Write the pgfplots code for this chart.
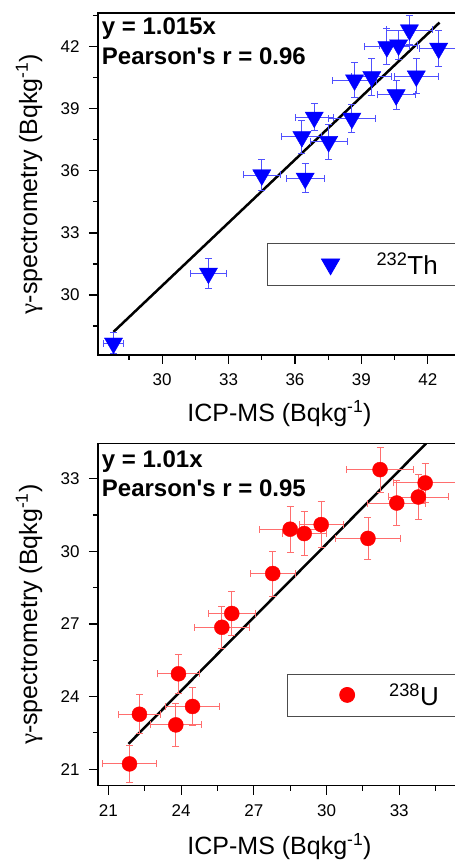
\documentclass[border=0pt]{standalone}
\usepackage{pgfplots}
\pgfplotsset{compat=1.18}
\usepackage{fontspec}
\setmainfont{Liberation Sans}
\newfontfamily\greekserif{Liberation Serif}
\definecolor{thblue}{RGB}{0,0,255}
\definecolor{therr}{RGB}{80,80,255}
\definecolor{ured}{RGB}{255,0,0}
\definecolor{uerr}{RGB}{255,110,110}
\pgfplotsset{
  common/.style={
    scale only axis, width=363pt, height=342pt,
    tick align=outside, tick pos=left,
    major tick length=9pt, minor tick length=5pt,
    axis line style={line width=1.2pt},
    tick style={black, line width=1.2pt},
    tick label style={font=\fontsize{17}{17}\selectfont},
    xticklabel style={yshift=-6pt},
    yticklabel style={xshift=-6pt},
    /pgf/number format/assume math mode=true,
    xlabel={ICP-MS (Bqkg\textsuperscript{-1})},
    ylabel={{\greekserif γ}-spectrometry (Bqkg\textsuperscript{-1})},
    every axis y label/.style={at={(axis description cs:-0.168,0.5)}, rotate=90, anchor=base, font=\fontsize{25}{25}\selectfont},
    clip=true,
  }
}
\begin{document}
\begin{tikzpicture}[x=1pt,y=1pt]
\useasboundingbox (0,0) rectangle (455,862);
\clip (0,0) rectangle (455,862);
% ---------- Th panel ----------
\begin{axis}[common,
  at={(98pt,507pt)}, anchor=south west,
  xmin=27.1, xmax=43.5, ymin=27.1, ymax=43.63,
  xtick={30,33,36,39,42}, ytick={30,33,36,39,42},
  minor xtick={28.5,31.5,34.5,37.5,40.5}, minor ytick={28.5,31.5,34.5,37.5,40.5,43.5},
  every axis x label/.style={at={(axis description cs:0.5,-0.195)}, anchor=base, font=\fontsize{25}{25}\selectfont},
  legend style={at={(axis description cs:0.466,0.328)}, anchor=north west,
    draw=black!70, line width=0.8pt, inner xsep=0pt, inner ysep=0pt,
    font=\fontsize{26}{26}\selectfont},
  legend cell align=left,
]
\addplot[black, line width=2.5pt, forget plot] coordinates {(27.8,28.217) (42.53,43.168)};
\addplot[only marks, mark=triangle*, mark size=10.5pt, color=thblue,
  mark options={rotate=180, fill=thblue, draw=thblue},
  legend image code/.code={\path[draw=none, fill=none] (-63pt,-21pt) rectangle (44pt,21pt);
    \draw[color=thblue, mark=triangle*, mark size=10.5pt, mark options={rotate=180, fill=thblue}] plot coordinates {(0pt,0pt)};},
  error bars/.cd, x dir=both, x explicit, y dir=both, y explicit,
  error bar style={color=therr, line width=0.9pt},
  error mark options={rotate=90, mark size=3.5pt, color=therr, line width=0.9pt},
  ] table[x=x, y=y, x error=ex, y error=ey] {
x y ex ey
34.50 35.80 0.85 0.75
36.46 35.64 0.86 0.70
36.31 37.65 0.90 0.80
36.87 38.59 0.87 0.65
37.52 37.41 0.83 0.85
38.57 38.54 1.05 0.68
38.69 40.39 1.00 0.85
39.47 40.55 0.90 0.90
40.15 42.00 1.00 0.88
40.68 42.08 0.85 0.70
40.57 39.67 0.85 0.70
41.17 42.81 1.05 0.72
41.48 40.58 1.00 0.85
42.49 41.92 0.85 0.85
32.09 31.05 0.80 0.72
27.80 27.67 0.45 0.50
};
\addlegendentry{\textsuperscript{232}Th\hspace*{120pt}}
\node[anchor=base west, inner sep=0pt, font=\bfseries\fontsize{24}{24}\selectfont] at (axis description cs:0.0102,0.9357) {y = 1.015x};
\node[anchor=base west, inner sep=0pt, font=\bfseries\fontsize{24}{24}\selectfont] at (axis description cs:0.0102,0.848) {Pearson\textquotesingle s r = 0.96};
\end{axis}
% ---------- U panel ----------
\begin{axis}[common,
  at={(98pt,76.3pt)}, anchor=south west,
  xmin=20.57, xmax=35.55, ymin=20.32, ymax=34.44,
  xtick={21,24,27,30,33}, ytick={21,24,27,30,33},
  minor xtick={22.5,25.5,28.5,31.5,34.5}, minor ytick={22.5,25.5,28.5,31.5},
  every axis x label/.style={at={(axis description cs:0.5,-0.2026)}, anchor=base, font=\fontsize{25}{25}\selectfont},
  legend style={at={(axis description cs:0.52,0.328)}, anchor=north west,
    draw=black!70, line width=0.8pt, inner xsep=0pt, inner ysep=0pt,
    font=\fontsize{26}{26}\selectfont},
  legend cell align=left,
]
\addplot[black, line width=2.5pt, forget plot] coordinates {(21.83,22.05) (34.11,34.45)};
\addplot[only marks, mark=*, mark size=7.5pt, color=ured,
  mark options={fill=ured, draw=ured},
  legend image code/.code={\path[draw=none, fill=none] (-60pt,-21pt) rectangle (40pt,21pt);
    \draw[color=ured, mark=*, mark size=7.5pt, mark options={fill=ured}] plot coordinates {(0pt,0pt)};},
  error bars/.cd, x dir=both, x explicit, y dir=both, y explicit,
  error bar style={color=uerr, line width=0.9pt},
  error mark options={rotate=90, mark size=3.5pt, color=uerr, line width=0.9pt},
  ] table[x=x, y=y, x error=ex, y error=ey] {
x y ex ey
32.21 33.37 1.38 0.93
34.07 32.82 1.30 0.80
33.79 32.24 1.25 0.93
32.90 31.99 1.20 0.93
31.71 30.53 1.35 0.86
29.78 31.10 0.90 0.95
29.08 30.73 0.90 0.90
28.50 30.91 1.25 0.95
27.78 29.08 0.93 0.93
26.09 27.43 0.96 0.90
25.68 26.86 1.14 0.87
23.89 24.94 0.86 0.80
24.47 23.59 1.13 0.77
23.78 22.83 1.06 0.88
22.28 23.27 0.87 0.80
21.87 21.22 1.10 0.76
};
\addlegendentry{\textsuperscript{238}U\hspace*{120pt}}
\node[anchor=base west, inner sep=0pt, font=\bfseries\fontsize{24}{24}\selectfont] at (axis description cs:0.0102,0.9317) {y = 1.01x};
\node[anchor=base west, inner sep=0pt, font=\bfseries\fontsize{24}{24}\selectfont] at (axis description cs:0.0102,0.8453) {Pearson\textquotesingle s r = 0.95};
\end{axis}
\end{tikzpicture}
\end{document}
